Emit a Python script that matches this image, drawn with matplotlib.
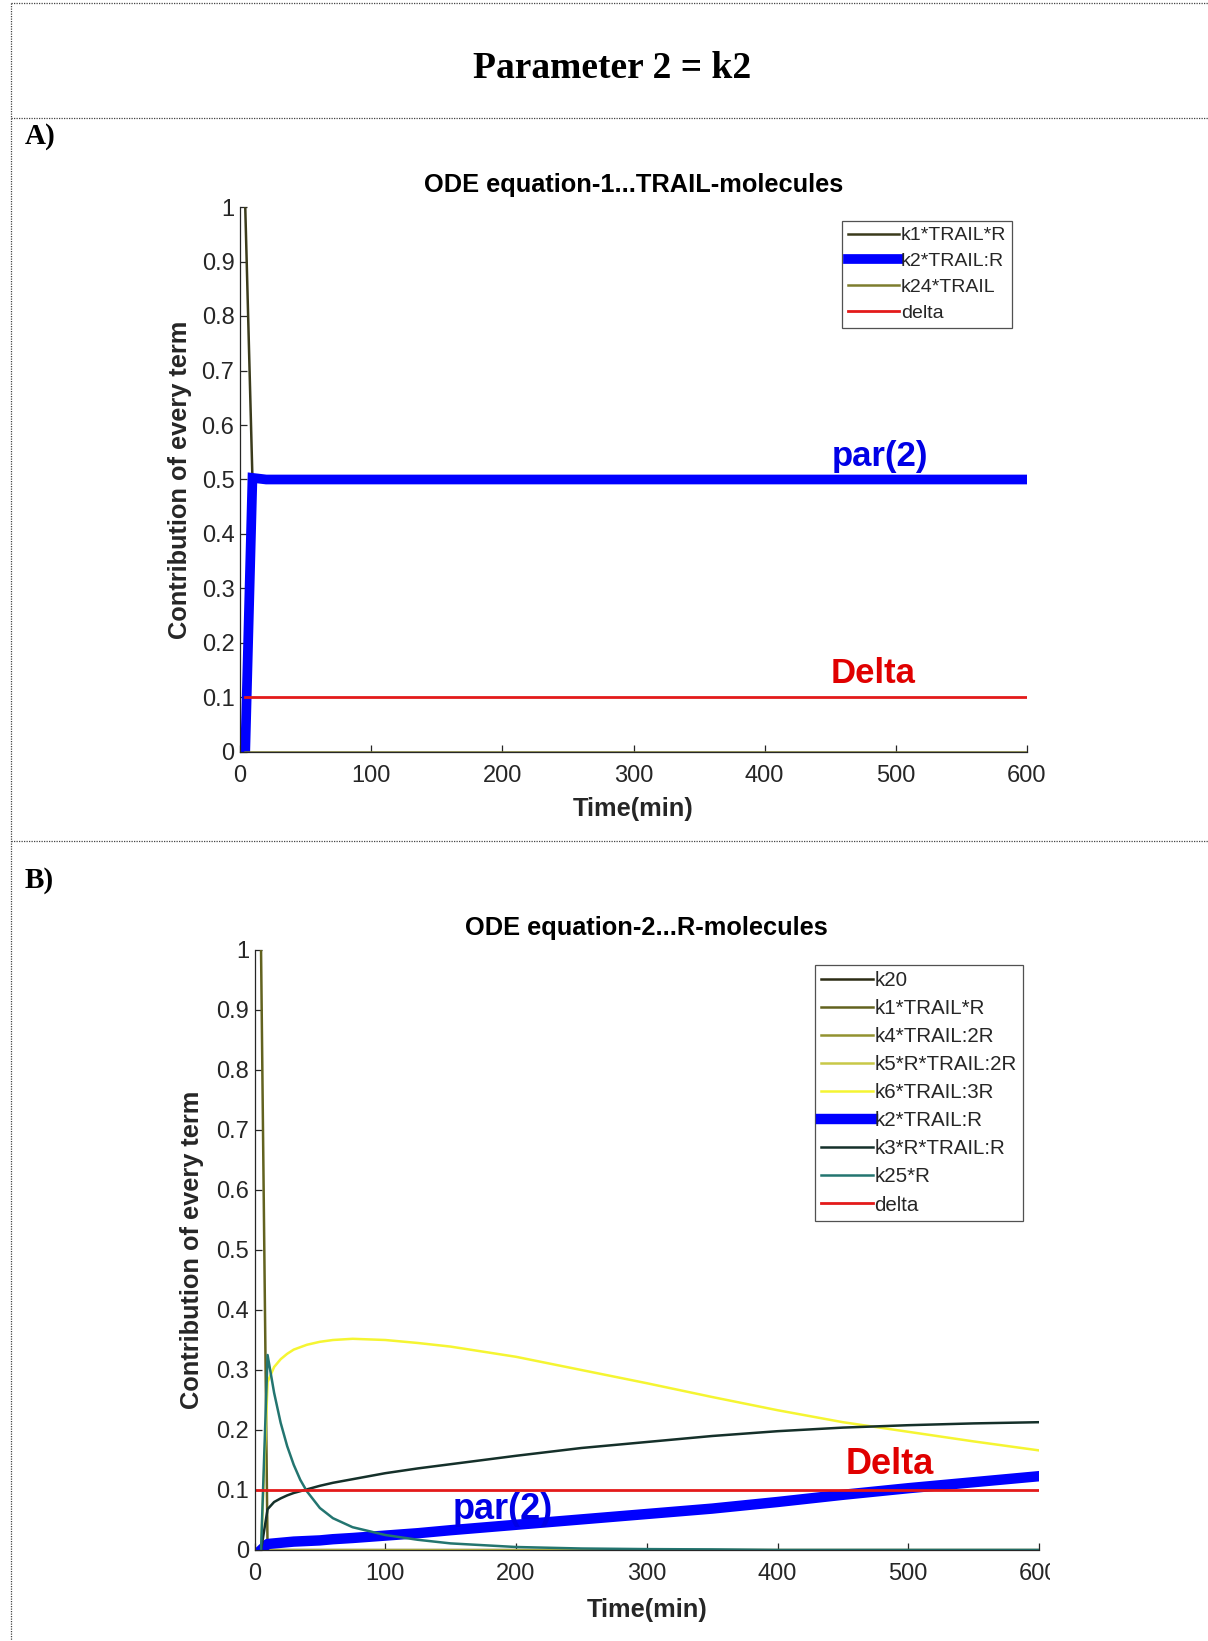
import matplotlib
matplotlib.use("Agg")
import matplotlib.pyplot as plt
from matplotlib.lines import Line2D
from matplotlib.transforms import Bbox

# ---------------- data ----------------
# Panel A : ODE equation-1 ... TRAIL-molecules
tA = [4, 9.5, 20, 600]
A_k1 = [1.0, 0.5, 0.5, 0.5]
A_k2 = [0.0, 0.503, 0.5, 0.5]
A_k24 = [0.0, 0.0, 0.0, 0.0]
A_delta_t = [4, 600]
A_delta = [0.1, 0.1]
A_labels = ["k1*TRAIL*R", "k2*TRAIL:R", "k24*TRAIL", "delta"]

# Panel B : ODE equation-2 ... R-molecules
tB = [5, 10, 15, 20, 25, 30, 35, 40, 50, 60, 75, 100, 125, 150, 200, 250, 300,
      350, 400, 450, 500, 550, 600]
B_k20 = [0.0] * 23
B_k1 = [1.0, 0.0, 0.0, 0.0, 0.0, 0.0, 0.0, 0.0, 0.0, 0.0, 0.0, 0.0, 0.0, 0.0,
        0.0, 0.0, 0.0, 0.0, 0.0, 0.0, 0.0, 0.0, 0.0]
B_k4 = [0.0] * 23
B_k5 = [0.0] * 23
B_k6 = [0.0, 0.28, 0.305, 0.318, 0.327, 0.334, 0.338, 0.342, 0.347, 0.350,
        0.352, 0.350, 0.345, 0.339, 0.322, 0.300, 0.278, 0.255, 0.233, 0.213,
        0.197, 0.181, 0.166]
B_k2 = [0.0, 0.010, 0.011, 0.012, 0.013, 0.014, 0.0145, 0.015, 0.016, 0.018,
        0.020, 0.024, 0.028, 0.033, 0.042, 0.051, 0.060, 0.069, 0.080, 0.092,
        0.103, 0.113, 0.123]
B_k3 = [0.0, 0.068, 0.080, 0.086, 0.091, 0.095, 0.098, 0.101, 0.107, 0.112,
        0.118, 0.128, 0.136, 0.143, 0.157, 0.170, 0.180, 0.190, 0.198, 0.204,
        0.208, 0.211, 0.213]
B_k25 = [0.0, 0.325, 0.262, 0.212, 0.173, 0.142, 0.117, 0.098, 0.070, 0.053,
         0.038, 0.025, 0.017, 0.011, 0.005, 0.0025, 0.0015, 0.001, 0.0, 0.0,
         0.0, 0.0, 0.0]
B_delta_t = [0, 600]
B_delta = [0.1, 0.1]
B_labels = ["k20", "k1*TRAIL*R", "k4*TRAIL:2R", "k5*R*TRAIL:2R", "k6*TRAIL:3R",
            "k2*TRAIL:R", "k3*R*TRAIL:R", "k25*R", "delta"]

xticks = [0, 100, 200, 300, 400, 500, 600]
yticks = [0, 0.1, 0.2, 0.3, 0.4, 0.5, 0.6, 0.7, 0.8, 0.9, 1]
ytick_labels = ["0", "0.1", "0.2", "0.3", "0.4", "0.5", "0.6", "0.7", "0.8", "0.9", "1"]

# ---------------- figure ----------------
W, H = 1208, 1641
DPI = 100
fig = plt.figure(figsize=(W / DPI, H / DPI), dpi=DPI)
fig.patch.set_facecolor("white")

SANS = ["Liberation Sans", "DejaVu Sans"]
SERIF = ["Liberation Serif", "DejaVu Serif"]
GRAY = "#262626"
LABEL_FS = 18.3
TICK_FS = 17


def fx(px):
    return px / W


def fy(py):
    return 1 - py / H


def add_axes_px(left, top, right, bottom):
    return fig.add_axes([fx(left), fy(bottom), fx(right) - fx(left), (bottom - top) / H])


# dotted page borders
dot = dict(color="#444444", lw=0.9, linestyle=(0, (1, 1)))
fig.add_artist(Line2D([fx(11), 1], [fy(3), fy(3)], **dot))
fig.add_artist(Line2D([fx(11), 1], [fy(118), fy(118)], **dot))
fig.add_artist(Line2D([fx(11), 1], [fy(841), fy(841)], **dot))
fig.add_artist(Line2D([fx(11), fx(11)], [fy(3), 0], **dot))

fig.text(fx(612), fy(68), "Parameter 2 = k2", family=SERIF, weight="bold",
         fontsize=27, ha="center", va="center")
fig.text(fx(25), fy(137), "A)", family=SERIF, weight="bold", fontsize=21,
         ha="left", va="center")
fig.text(fx(25), fy(880), "B)", family=SERIF, weight="bold", fontsize=21,
         ha="left", va="center")


def style_axes(ax):
    ax.set_xlim(0, 600)
    ax.set_ylim(0, 1)
    ax.set_xticks(xticks)
    ax.set_xticklabels([str(v) for v in xticks])
    ax.set_yticks(yticks)
    ax.set_yticklabels(ytick_labels)
    for s in ("top", "right"):
        ax.spines[s].set_visible(False)
    for s in ("left", "bottom"):
        ax.spines[s].set_color(GRAY)
        ax.spines[s].set_linewidth(0.9)
    ax.tick_params(direction="in", length=5, width=0.9, colors=GRAY,
                   labelsize=TICK_FS, labelcolor=GRAY)
    ax.tick_params(axis="x", pad=9.5)
    ax.tick_params(axis="y", pad=4)
    for lab in ax.get_xticklabels() + ax.get_yticklabels():
        lab.set_family(SANS)


def style_legend(leg):
    leg.get_frame().set_edgecolor(GRAY)
    leg.get_frame().set_linewidth(0.9)
    for t in leg.get_texts():
        t.set_color(GRAY)


# ---------------- Panel A ----------------
axA = add_axes_px(240, 207, 1027, 752)
style_axes(axA)
lw_thin = 1.8
axA.plot(tA, A_k1, color="#3b3b1c", lw=lw_thin, label=A_labels[0])
axA.plot(tA, A_k2, color="#0000ff", lw=7, label=A_labels[1],
         solid_joinstyle="miter")
axA.plot(tA, A_k24, color="#7d7d2e", lw=lw_thin, label=A_labels[2])
axA.plot(A_delta_t, A_delta, color="#e31a1a", lw=2, label=A_labels[3])
axA.set_title("ODE equation-1...TRAIL-molecules", family=SANS, weight="bold",
              fontsize=LABEL_FS, y=1.040, pad=0, va="center", color="black")
axA.set_xlabel("Time(min)", family=SANS, weight="bold", fontsize=LABEL_FS,
               color=GRAY, va="center")
axA.xaxis.set_label_coords(0.5, -0.105)
axA.set_ylabel("Contribution of every term", family=SANS, weight="bold",
               fontsize=LABEL_FS, color=GRAY, va="center")
axA.yaxis.set_label_coords(-0.076, 0.5)
axA.text(488, 0.525, "par(2)", color="#0000e6", family=SANS, weight="bold",
         fontsize=25, ha="center", va="baseline")
axA.text(483, 0.127, "Delta", color="#e00000", family=SANS, weight="bold",
         fontsize=25, ha="center", va="baseline")
legA = axA.legend(loc="upper right",
                  bbox_to_anchor=((1012 - 240) / 787, (752 - 221) / 545),
                  borderaxespad=0, prop=dict(family=SANS, size=14),
                  handlelength=2.6, handletextpad=0.1, labelspacing=0.42,
                  borderpad=0.3, frameon=True, fancybox=False)
style_legend(legA)

# ---------------- Panel B ----------------
axB = add_axes_px(254.5, 950, 1039, 1550)
style_axes(axB)
axB.plot(tB, B_k20, color="#2c2c14", lw=lw_thin, label=B_labels[0])
axB.plot(tB, B_k1, color="#62621f", lw=lw_thin, label=B_labels[1])
axB.plot(tB, B_k4, color="#929230", lw=lw_thin, label=B_labels[2])
axB.plot(tB, B_k5, color="#c8c848", lw=lw_thin, label=B_labels[3])
axB.plot(tB, B_k6, color="#f5f532", lw=lw_thin, label=B_labels[4])
axB.plot(tB, B_k2, color="#0000ff", lw=7.5, label=B_labels[5])
axB.plot(tB, B_k3, color="#15302a", lw=lw_thin, label=B_labels[6])
axB.plot(tB, B_k25, color="#237570", lw=lw_thin, label=B_labels[7])
axB.plot(B_delta_t, B_delta, color="#e31a1a", lw=2, label=B_labels[8])
axB.set_title("ODE equation-2...R-molecules", family=SANS, weight="bold",
              fontsize=LABEL_FS, y=1.0375, pad=0, va="center", color="black")
axB.set_xlabel("Time(min)", family=SANS, weight="bold", fontsize=LABEL_FS,
               color=GRAY, va="center")
axB.xaxis.set_label_coords(0.5, -0.1)
axB.set_ylabel("Contribution of every term", family=SANS, weight="bold",
               fontsize=LABEL_FS, color=GRAY, va="center")
axB.yaxis.set_label_coords(-0.080, 0.5)
axB.text(486, 0.126, "Delta", color="#e00000", family=SANS, weight="bold",
         fontsize=26, ha="center", va="baseline")
axB.text(190, 0.052, "par(2)", color="#0000e6", family=SANS, weight="bold",
         fontsize=26, ha="center", va="baseline")
legB = axB.legend(loc="upper right",
                  bbox_to_anchor=((1023 - 254.5) / 784.5, (1550 - 965) / 600),
                  borderaxespad=0, prop=dict(family=SANS, size=14.8),
                  handlelength=2.5, handletextpad=0.1, labelspacing=0.44,
                  borderpad=0.3, frameon=True, fancybox=False)
style_legend(legB)

# the lower picture is cut at the right edge in the original
clip = Bbox.from_extents(0, 0, 1050, H)
for tk in axB.xaxis.get_major_ticks():
    tk.label1.set_clip_box(clip)
    tk.label1.set_clip_on(True)

fig.savefig("out.png", dpi=DPI, facecolor="white")
